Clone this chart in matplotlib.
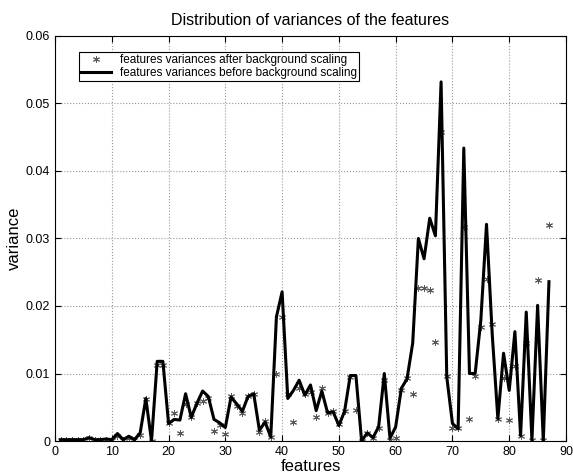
import numpy as np
import matplotlib
matplotlib.use('Agg')
from matplotlib import pyplot as plt

plt.rcParams['font.family'] = ['Liberation Sans', 'DejaVu Sans']

# feature index 1..87
features = np.arange(1, 88)

# variances before background scaling (line)
before = [0.0002, 0.0002, 0.0002, 0.0002, 0.0002, 0.0005, 0.0002, 0.0002, 0.0003, 0.0002,
          0.0011, 0.0002, 0.0007, 0.0002, 0.0012, 0.0063, 0.0000, 0.0118, 0.0118, 0.0026,
          0.0032, 0.0031, 0.0070, 0.0035, 0.0056, 0.0074, 0.0066, 0.0032, 0.0027, 0.0020,
          0.0065, 0.0055, 0.0044, 0.0066, 0.0070, 0.0016, 0.0028, 0.0006, 0.0184, 0.0221,
          0.0063, 0.0075, 0.0090, 0.0068, 0.0083, 0.0045, 0.0074, 0.0042, 0.0043, 0.0023,
          0.0044, 0.0097, 0.0097, 0.0000, 0.0012, 0.0005, 0.0021, 0.0100, 0.0004, 0.0021,
          0.0078, 0.0092, 0.0145, 0.0300, 0.0270, 0.0330, 0.0304, 0.0532, 0.0095, 0.0026,
          0.0018, 0.0434, 0.0100, 0.0100, 0.0179, 0.0321, 0.0159, 0.0033, 0.0130, 0.0075,
          0.0162, 0.0008, 0.0191, 0.0001, 0.0201, 0.0000, 0.0236]

# variances after background scaling (stars)
after = [0.0001, 0.0002, 0.0001, 0.0002, 0.0001, 0.0004, 0.0001, 0.0002, 0.0002, 0.0002,
         0.0008, 0.0001, 0.0004, 0.0001, 0.0009, 0.0062, 0.0000, 0.0112, 0.0112, 0.0026,
         0.0041, 0.0012, 0.0055, 0.0035, 0.0056, 0.0059, 0.0064, 0.0015, 0.0024, 0.0010,
         0.0066, 0.0052, 0.0041, 0.0066, 0.0069, 0.0013, 0.0029, 0.0006, 0.0100, 0.0184,
         0.0070, 0.0028, 0.0078, 0.0070, 0.0073, 0.0036, 0.0079, 0.0042, 0.0044, 0.0025,
         0.0045, 0.0095, 0.0046, 0.0000, 0.0012, 0.0005, 0.0020, 0.0090, 0.0001, 0.0004,
         0.0076, 0.0093, 0.0070, 0.0226, 0.0226, 0.0223, 0.0146, 0.0458, 0.0096, 0.0019,
         0.0019, 0.0317, 0.0033, 0.0096, 0.0169, 0.0240, 0.0173, 0.0033, 0.0093, 0.0031,
         0.0111, 0.0008, 0.0145, 0.0002, 0.0239, 0.0002, 0.0320]

fig = plt.figure(figsize=(5.73, 4.74), dpi=100)
ax = fig.add_axes([55/573, 1-441/474, 511/573, 405/474])

ax.plot(features, after, linestyle='none', marker=(6, 2, 0), markersize=5,
        color='0.35', markeredgewidth=0.7,
        label='features variances after background scaling')
ax.plot(features, before, '-', color='black', linewidth=2.2,
        label='features variances before background scaling')

ax.set_xlim(0, 90)
ax.set_ylim(0, 0.06)
ax.set_xticks(np.arange(0, 91, 10))
ax.set_yticks([0, 0.01, 0.02, 0.03, 0.04, 0.05, 0.06])
ax.set_yticklabels(['0', '0.01', '0.02', '0.03', '0.04', '0.05', '0.06'])
ax.grid(True, linestyle=':', color='0.6', linewidth=0.8)
ax.tick_params(direction='in', top=True, right=True, labelsize=9, length=4)

ax.set_title('Distribution of variances of the features', fontsize=11.5, pad=8)
ax.set_xlabel('features', fontsize=12, labelpad=1)
ax.set_ylabel('variance', fontsize=12, labelpad=3)

leg = ax.legend(loc='upper left', bbox_to_anchor=(0.035, 0.975), fontsize=8.5,
                fancybox=False, framealpha=1, edgecolor='black',
                borderpad=0.2, labelspacing=0.05, handlelength=2.5)
leg.get_frame().set_linewidth(0.8)

plt.savefig('out.png', dpi=100)
